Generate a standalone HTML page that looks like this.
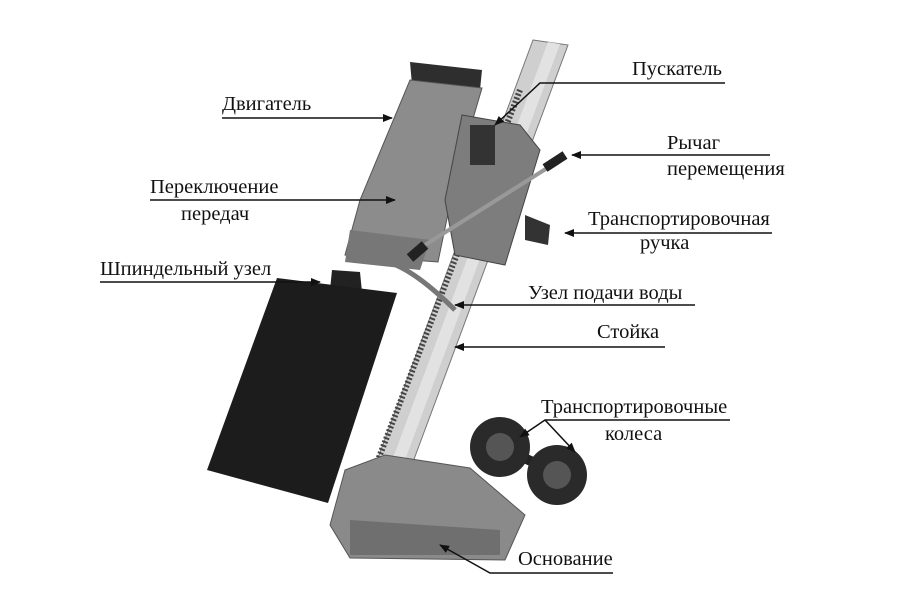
<!DOCTYPE html>
<html><head><meta charset="utf-8"><style>
html,body{margin:0;padding:0;background:#fff;}
svg{display:block}
text{font-family:"Liberation Serif",serif;font-size:20.5px;fill:#111}
</style></head><body>
<svg width="900" height="600" viewBox="0 0 900 600" xmlns="http://www.w3.org/2000/svg">
<defs>
<marker id="a" markerWidth="10" markerHeight="8" refX="9" refY="4" orient="auto" markerUnits="userSpaceOnUse">
<path d="M0,0 L10,4 L0,8 Z" fill="#111"/></marker>
</defs>
<!-- column -->
<polygon points="533,40 568,45 410,470 375,466" fill="#cfcfcf" stroke="#777"/>
<polygon points="548,42 560,44 402,468 390,466" fill="#e2e2e2"/>
<line x1="520" y1="90" x2="378" y2="460" stroke="#444" stroke-width="6" stroke-dasharray="2 2"/>
<!-- base -->
<polygon points="345,470 385,455 470,468 525,515 505,560 350,558 330,525" fill="#8a8a8a" stroke="#555"/>
<polygon points="350,520 500,530 500,555 350,555" fill="#6f6f6f"/>
<!-- wheels -->
<line x1="500" y1="447" x2="557" y2="473" stroke="#222" stroke-width="10"/>
<circle cx="500" cy="447" r="30" fill="#2a2a2a"/>
<circle cx="500" cy="447" r="14" fill="#555"/>
<circle cx="557" cy="475" r="30" fill="#2a2a2a"/>
<circle cx="557" cy="475" r="14" fill="#555"/>
<!-- core bit -->
<polygon points="332,270 360,272 362,292 330,290" fill="#222"/>
<polygon points="277,278 397,293 328,503 207,470" fill="#1c1c1c"/>
<!-- motor -->
<polygon points="410,62 482,70 480,90 412,85" fill="#2e2e2e"/>
<polygon points="410,80 482,88 455,180 438,262 345,255 360,200 385,140" fill="#8c8c8c" stroke="#555"/>
<polygon points="350,230 430,240 420,270 345,262" fill="#777"/>
<!-- carriage -->
<polygon points="462,115 520,125 540,150 505,265 455,255 445,200" fill="#7d7d7d" stroke="#444"/>
<rect x="470" y="125" width="25" height="40" fill="#333"/>
<line x1="425" y1="245" x2="560" y2="160" stroke="#999" stroke-width="4"/>
<line x1="545" y1="168" x2="565" y2="155" stroke="#222" stroke-width="9"/>
<line x1="425" y1="245" x2="410" y2="258" stroke="#222" stroke-width="10"/>
<polygon points="525,215 550,225 548,245 525,240" fill="#333"/>
<path d="M380,260 Q410,265 455,310" stroke="#777" stroke-width="5" fill="none"/>
<!-- labels -->
<g stroke="#111" stroke-width="1.5" fill="none">
<line x1="222" y1="118" x2="392" y2="118" marker-end="url(#a)"/>
<polyline points="725,83 540,83 495,125" marker-end="url(#a)"/>
<line x1="770" y1="155" x2="572" y2="155" marker-end="url(#a)"/>
<line x1="150" y1="200" x2="395" y2="200" marker-end="url(#a)"/>
<line x1="772" y1="233" x2="565" y2="233" marker-end="url(#a)"/>
<line x1="100" y1="282" x2="320" y2="282" marker-end="url(#a)"/>
<line x1="695" y1="305" x2="455" y2="305" marker-end="url(#a)"/>
<line x1="665" y1="347" x2="455" y2="347" marker-end="url(#a)"/>
<polyline points="730,420 545,420 520,437" marker-end="url(#a)"/>
<line x1="545" y1="420" x2="575" y2="452" marker-end="url(#a)"/>
<polyline points="613,573 490,573 440,545" marker-end="url(#a)"/>
</g>
<text x="222" y="110">Двигатель</text>
<text x="632" y="75">Пускатель</text>
<text x="667" y="149">Рычаг</text>
<text x="667" y="175">перемещения</text>
<text x="150" y="193">Переключение</text>
<text x="181" y="220">передач</text>
<text x="588" y="225">Транспортировочная</text>
<text x="640" y="249">ручка</text>
<text x="100" y="275">Шпиндельный узел</text>
<text x="528" y="299">Узел подачи воды</text>
<text x="597" y="338">Стойка</text>
<text x="541" y="413">Транспортировочные</text>
<text x="605" y="440">колеса</text>
<text x="518" y="565">Основание</text>
</svg>
</body></html>
